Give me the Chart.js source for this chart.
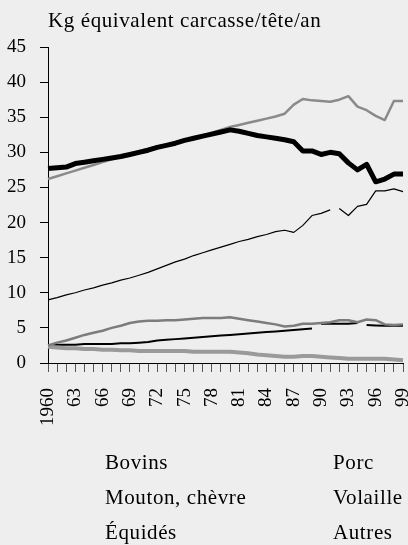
<!DOCTYPE html>
<html>
<head>
<meta charset="utf-8">
<script src="https://cdn.jsdelivr.net/npm/chart.js@4.4.1/dist/chart.umd.min.js"></script>
<style>
  html, body { margin: 0; padding: 0; background: #eeeeee; }
  #wrap { position: relative; width: 408px; height: 545px; overflow: hidden; background: #eeeeee; }
  canvas { position: absolute; left: 0; top: 0; }
  .txt { position: absolute; font-family: 'Liberation Serif', 'Times New Roman', serif; color: #000; white-space: nowrap; line-height: 1; }
  #title { left: 48px; top: 10px; font-size: 21px; letter-spacing: 0.6px; }
  .leg { font-size: 21px; letter-spacing: 0.6px; }
</style>
</head>
<body>
<div id="wrap">
  <canvas id="c" width="408" height="545"></canvas>
  <div id="title" class="txt">Kg équivalent carcasse/tête/an</div>
  <div id="legend"></div>
</div>
<script>
// ---- Data ----
const years = [];
for (let y = 1960; y <= 1999; y++) years.push(String(y));

const seriesNames = ["Bovins", "Porc", "Mouton, chèvre", "Volaille", "Équidés", "Autres"];

const bovins = [27.7, 27.8, 27.9, 28.4, 28.6, 28.8, 29.0, 29.2, 29.4, 29.7,
                30.0, 30.3, 30.7, 31.0, 31.3, 31.7, 32.0, 32.3, 32.6, 32.9,
                33.2, 33.0, 32.7, 32.4, 32.2, 32.0, 31.8, 31.5, 30.2, 30.2,
                29.7, 30.0, 29.8, 28.5, 27.5, 28.3, 25.8, 26.2, 26.9, 26.9];

const porc = [26.2, 26.6, 27.0, 27.4, 27.8, 28.2, 28.6, 29.0, 29.4, 29.8,
              30.2, 30.5, 30.8, 31.1, 31.4, 31.7, 32.0, 32.4, 32.8, 33.2,
              33.6, 33.9, 34.2, 34.5, 34.8, 35.1, 35.5, 36.8, 37.6, 37.4,
              37.3, 37.2, 37.5, 38.0, 36.5, 36.0, 35.2, 34.6, 37.3, 37.3];

const mouton = [2.5, 2.9, 3.2, 3.6, 4.0, 4.3, 4.6, 5.0, 5.3, 5.7,
                5.9, 6.0, 6.0, 6.1, 6.1, 6.2, 6.3, 6.4, 6.4, 6.4,
                6.5, 6.3, 6.1, 5.9, 5.7, 5.5, 5.2, 5.3, 5.6, 5.6,
                5.7, 5.8, 6.1, 6.1, 5.8, 6.2, 6.1, 5.5, 5.4, 5.5];

const volaille = [9.0, 9.3, 9.7, 10.0, 10.4, 10.7, 11.1, 11.4, 11.8, 12.1,
                  12.5, 12.9, 13.4, 13.9, 14.4, 14.8, 15.3, 15.7, 16.1, 16.5,
                  16.9, 17.3, 17.6, 18.0, 18.3, 18.7, 18.9, 18.6, 19.6, 21.0,
                  21.3, 21.8, 22.0, 21.0, 22.3, 22.6, 24.5, 24.5, 24.8, 24.4];

const equides = [2.3, 2.2, 2.1, 2.1, 2.0, 2.0, 1.9, 1.9, 1.8, 1.8,
                 1.7, 1.7, 1.7, 1.7, 1.7, 1.7, 1.6, 1.6, 1.6, 1.6,
                 1.6, 1.5, 1.4, 1.2, 1.1, 1.0, 0.9, 0.9, 1.0, 1.0,
                 0.9, 0.8, 0.7, 0.6, 0.6, 0.6, 0.6, 0.6, 0.5, 0.4];

const autres = [2.5, 2.6, 2.6, 2.6, 2.7, 2.7, 2.7, 2.7, 2.8, 2.8,
                2.9, 3.0, 3.2, 3.3, 3.4, 3.5, 3.6, 3.7, 3.8, 3.9,
                4.0, 4.1, 4.2, 4.3, 4.4, 4.5, 4.6, 4.7, 4.8, 4.9,
                5.6, 5.6, 5.6, 5.6, 5.7, 5.4, 5.35, 5.3, 5.3, 5.3];

const yTicks = [0, 5, 10, 15, 20, 25, 30, 35, 40, 45];

// ---- Styles ----
const styles = [
  { color: '#000000', width: 5 },
  { color: '#8a8a8a', width: 2.5 },
  { color: '#7c7c7c', width: 2.5 },
  { color: '#000000', width: 1.2 },
  { color: '#9a9a9a', width: 4 },
  { color: '#000000', width: 2 }
];
const gaps = { 3: [31], 5: [29, 34] };
const seriesData = [bovins, porc, mouton, volaille, equides, autres];

const datasets = seriesData.map((d, i) => ({
  label: seriesNames[i],
  data: d,
  borderColor: styles[i].color,
  borderWidth: styles[i].width,
  pointRadius: 0,
  tension: 0,
  fill: false,
  borderJoinStyle: 'round',
  segment: gaps[i] ? {
    borderColor: ctx => gaps[i].includes(ctx.p0DataIndex) ? 'rgba(0,0,0,0)' : undefined
  } : undefined
}));

const font = "'Liberation Serif', 'Times New Roman', serif";

new Chart(document.getElementById('c'), {
  type: 'line',
  data: { labels: years, datasets },
  options: {
    responsive: false,
    animation: false,
    events: [],
    layout: { padding: { left: 0, right: 5, top: 47, bottom: 102 } },
    plugins: { legend: { display: false }, tooltip: { enabled: false }, title: { display: false } },
    scales: {
      x: {
        type: 'category',
        offset: false,
        afterFit: s => { s.height = 80; s.paddingLeft = 0; s.paddingRight = 0; },
        border: { display: true, color: '#000', width: 1 },
        grid: { drawOnChartArea: false, drawTicks: true, tickLength: 9, color: '#555' },
        ticks: {
          autoSkip: false,
          minRotation: 90,
          maxRotation: 90,
          padding: 16,
          color: '#000',
          font: { family: font, size: 19 },
          callback: function (v, i) {
            if (i % 3 !== 0) return '';
            const lab = this.getLabelForValue(v);
            return i === 0 ? lab : lab.slice(2);
          }
        }
      },
      y: {
        min: 0,
        max: 45,
        afterFit: s => { s.width = 48; s.paddingTop = 0; s.paddingBottom = 0; },
        afterBuildTicks: s => { s.ticks = yTicks.map(v => ({ value: v })); },
        border: { display: true, color: '#000', width: 1 },
        grid: { drawOnChartArea: false, drawTicks: true, tickLength: 8, color: '#000' },
        ticks: {
          padding: 14,
          color: '#000',
          font: { family: font, size: 19 }
        }
      }
    }
  }
});

// ---- Text legend (no samples, as in the reference) ----
const legCols = [105, 333];
const legRows = [452, 487, 522];
const legend = document.getElementById('legend');
seriesNames.forEach((name, i) => {
  const el = document.createElement('div');
  el.className = 'txt leg';
  el.textContent = name;
  el.style.left = legCols[i % 2] + 'px';
  el.style.top = legRows[Math.floor(i / 2)] + 'px';
  legend.appendChild(el);
});
</script>
</body>
</html>
